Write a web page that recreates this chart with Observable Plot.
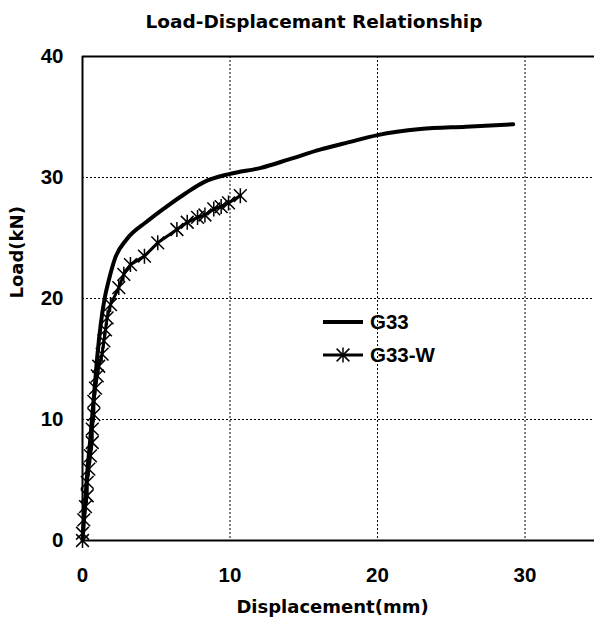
<!DOCTYPE html>
<html>
<head>
<meta charset="utf-8">
<script src="https://cdn.jsdelivr.net/npm/d3@7"></script>
<script src="https://cdn.jsdelivr.net/npm/@observablehq/plot@0.6"></script>
<style>
  html, body { margin: 0; padding: 0; background: white; }
  #wrap { position: relative; width: 594px; height: 620px; overflow: hidden; }
  #title { height: 40px; line-height: 43px; padding-left: 34px; text-align: center;
           font-family: "DejaVu Sans", sans-serif; font-weight: bold; font-size: 18.5px; color: #000; }
  #legend { position: absolute; left: 0; top: 0; pointer-events: none; }
</style>
</head>
<body>
<div id="wrap">
  <div id="title">Load-Displacemant Relationship</div>
  <div id="chart"></div>
</div>
<script>
// ---- data ----
const seriesNames = ["G33", "G33-W"];

const g33Disp = [0, 0.15, 0.32, 0.5, 0.66, 0.85, 1.0, 1.25, 1.5, 1.8, 2.2, 3.0, 4.3, 5.7, 7.0, 8.2, 10.0, 12.1, 14.0, 16.1, 18.0, 20.0, 22.9, 26.0, 29.2];
const g33Load = [0, 2.5, 5.6, 8.0, 10.3, 13.0, 15.2, 18.0, 20.0, 21.6, 23.3, 24.9, 26.3, 27.6, 28.7, 29.6, 30.3, 30.8, 31.5, 32.3, 32.9, 33.5, 34.0, 34.2, 34.4];

const g33wDisp = [0, 0, 0.09, 0.2, 0.32, 0.32, 0.43, 0.54, 0.66, 0.66, 0.77, 0.77, 0.88, 1.0, 1.1, 1.33, 1.45, 1.56, 1.67, 1.9, 2.46, 2.8, 3.25, 4.2, 5.1, 6.4, 7.1, 7.8, 8.3, 8.9, 9.4, 9.9, 10.7];
const g33wLoad = [0, 0.6, 1.7, 2.8, 3.7, 4.8, 5.9, 7.0, 8.1, 9.2, 10.4, 11.5, 12.6, 13.6, 14.4, 15.4, 16.5, 17.4, 18.4, 19.5, 20.9, 22.0, 22.8, 23.5, 24.6, 25.7, 26.3, 26.7, 26.9, 27.4, 27.6, 27.9, 28.5];

const xTicks = [0, 10, 20, 30];
const yTicks = [0, 10, 20, 30, 40];
const xGrid = [10, 20, 30];
const yGrid = [10, 20, 30];
const xLabel = "Displacement(mm)";
const yLabel = "Load(kN)";

// ---- build tables ----
const g33 = g33Disp.map((d, i) => ({x: d, y: g33Load[i]}));
const g33w = g33wDisp.map((d, i) => ({x: d, y: g33wLoad[i]}));

const asterisk = {
  draw(context, size) {
    const r = Math.sqrt(size / Math.PI);
    const k = r * 0.85;
    context.moveTo(0, -r); context.lineTo(0, r);
    context.moveTo(-k, -k); context.lineTo(k, k);
    context.moveTo(-k, k); context.lineTo(k, -k);
  }
};

const tickFont = "'Liberation Sans', Arial, sans-serif";
const labelFont = "'DejaVu Sans', sans-serif";

const chart = Plot.plot({
  width: 594,
  height: 580,
  marginLeft: 82,
  marginRight: 0,
  marginTop: 16,
  marginBottom: 80,
  x: {domain: [0, 34.71]},
  y: {domain: [0, 40]},
  style: {fontFamily: tickFont, fontWeight: "bold", fontSize: "20px", color: "black", background: "white", overflow: "visible"},
  marks: [
    Plot.ruleX(xGrid, {stroke: "black", strokeWidth: 1, strokeDasharray: "2,2"}),
    Plot.ruleY(yGrid, {stroke: "black", strokeWidth: 1, strokeDasharray: "2,2"}),
    Plot.axisX(xTicks, {tickSize: 0, tickPadding: 27, label: null, fontSize: 20.5, fontWeight: "bold", fontFamily: tickFont}),
    Plot.axisY(yTicks, {tickSize: 0, tickPadding: 19, label: null, fontSize: 20.5, fontWeight: "bold", fontFamily: tickFont}),
    Plot.ruleX([0], {stroke: "black", strokeWidth: 2}),
    Plot.ruleY([0, 40], {stroke: "black", strokeWidth: 2}),
    Plot.line(g33, {x: "x", y: "y", stroke: "black", strokeWidth: 4, curve: "monotone-x"}),
    Plot.line(g33w, {x: "x", y: "y", stroke: "black", strokeWidth: 3}),
    Plot.dot(g33w, {x: "x", y: "y", symbol: asterisk, r: 7.5, stroke: "black", strokeWidth: 1.5, fill: "none"}),
    Plot.text([yLabel], {frameAnchor: "left", dx: -65, rotate: -90, fontFamily: labelFont, fontSize: 18, fontWeight: "bold"}),
    Plot.text([xLabel], {frameAnchor: "bottom", dy: 67, dx: -6, lineAnchor: "middle", fontFamily: labelFont, fontSize: 18, fontWeight: "bold"})
  ]
});
document.getElementById("chart").appendChild(chart);

// ---- legend overlay ----
const ns = "http://www.w3.org/2000/svg";
const leg = document.createElementNS(ns, "svg");
leg.setAttribute("id", "legend");
leg.setAttribute("width", 594);
leg.setAttribute("height", 620);
const rows = [{y: 322, w: 4, star: false}, {y: 355, w: 3, star: true}];
rows.forEach((row, i) => {
  const l = document.createElementNS(ns, "line");
  l.setAttribute("x1", 323); l.setAttribute("x2", 363);
  l.setAttribute("y1", row.y); l.setAttribute("y2", row.y);
  l.setAttribute("stroke", "black"); l.setAttribute("stroke-width", row.w);
  leg.appendChild(l);
  if (row.star) {
    const p = document.createElementNS(ns, "path");
    const path = d3.path();
    asterisk.draw(path, 7.5 * 7.5 * Math.PI);
    p.setAttribute("d", path.toString());
    p.setAttribute("transform", `translate(343,${row.y})`);
    p.setAttribute("stroke", "black"); p.setAttribute("stroke-width", 1.5); p.setAttribute("fill", "none");
    leg.appendChild(p);
  }
  const t = document.createElementNS(ns, "text");
  t.setAttribute("x", 370); t.setAttribute("y", row.y);
  t.setAttribute("dy", "0.35em");
  t.setAttribute("font-family", tickFont); t.setAttribute("font-weight", "bold"); t.setAttribute("font-size", 20.5);
  t.textContent = seriesNames[i];
  leg.appendChild(t);
});
document.getElementById("wrap").appendChild(leg);
</script>
</body>
</html>
